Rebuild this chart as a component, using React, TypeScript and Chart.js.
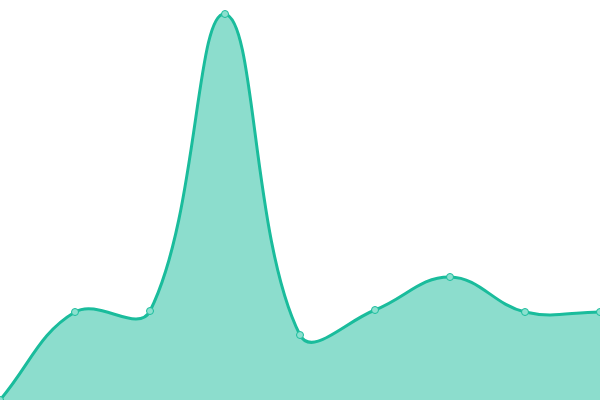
import { useRef, useEffect } from "react";
import { Chart, registerables } from "chart.js";

Chart.register(...registerables);

const labels = ["1", "2", "3", "4", "5", "6", "7", "8", "9"];
const values = [0, 88, 89, 386, 65, 90, 123, 88, 88];

function App() {
  const chartRef = useRef<HTMLCanvasElement>(null);

  useEffect(() => {
    if (!chartRef.current) return;

    const chart = new Chart(chartRef.current, {
      type: "line",
      data: {
        labels,
        datasets: [{
          data: values,
          fill: true,
          borderColor: "#1abc9c",
          backgroundColor: "rgba(26, 188, 156, 0.5)",
          borderWidth: 3,
          tension: 0.4,
          pointRadius: 3.5,
          pointBorderWidth: 1,
          pointBackgroundColor: "#8ce0cf",
          pointBorderColor: "#1abc9c",
        }]
      },
      options: {
        animation: false,
        responsive: true,
        maintainAspectRatio: false,
        layout: { padding: 0, autoPadding: false },
        plugins: {
          legend: { display: false },
          tooltip: { enabled: false }
        },
        scales: {
          x: { display: false, offset: false },
          y: { display: false, min: 0, max: 400 }
        }
      }
    });

    return () => chart.destroy();
  }, []);

  return (
    <div style={{ position: "fixed", left: 0, top: 0, width: 600, height: 400 }}>
      <canvas ref={chartRef}></canvas>
    </div>
  );
}

export default App;
